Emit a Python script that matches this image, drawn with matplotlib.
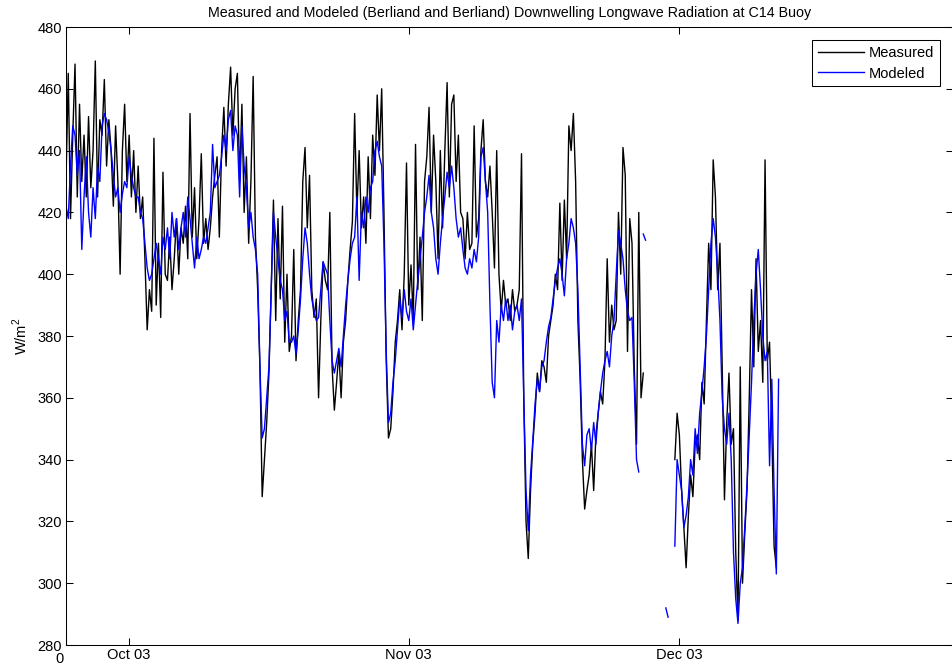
"""
Measured vs modeled downwelling longwave radiation at the C14 buoy.
Values were read off the original figure at 6-hour spacing (4 per day),
starting 24 Sep 2003 (day 0).
"""

import matplotlib
matplotlib.use("Agg")
import matplotlib.pyplot as plt
import matplotlib.transforms as mtransforms
import numpy as np

nan = np.nan

# ---------------------------------------------------------------------------
# Data (W/m^2), one row per day, 4 samples per day
# ---------------------------------------------------------------------------

measured_rows = [
    [430, 465, 418, 445], [468, 425, 455, 430], [445, 425, 451, 428], [440, 469, 425, 450],
    [445, 463, 435, 450], [440, 422, 448, 430], [400, 440, 455, 430], [445, 425, 440, 420],
    [435, 418, 425, 405], [382, 395, 388, 444], [390, 410, 386, 433], [400, 398, 412, 395],
    [405, 418, 400, 415], [410, 422, 405, 452], [412, 428, 405, 418], [439, 410, 418, 408],
    [415, 425, 432, 438], [412, 440, 454, 435], [455, 467, 445, 460], [465, 430, 455, 420],
    [438, 410, 430, 464], [412, 395, 370, 328], [340, 352, 368, 395], [424, 385, 418, 392],
    [422, 378, 400, 375], [380, 408, 372, 385], [395, 430, 441, 415], [432, 395, 386, 392],
    [360, 385, 404, 398], [395, 420, 370, 356], [365, 375, 360, 378], [385, 398, 408, 417],
    [452, 420, 440, 415], [425, 410, 438, 418], [445, 432, 458, 440], [460, 420, 372, 347],
    [350, 362, 378, 385], [395, 382, 400, 436], [390, 403, 385, 442], [395, 412, 385, 430],
    [438, 454, 420, 445], [430, 405, 440, 415], [440, 462, 425, 455], [458, 430, 445, 420],
    [418, 405, 420, 408], [410, 448, 412, 418], [440, 450, 430, 425], [435, 420, 402, 440],
    [400, 388, 398, 390], [392, 385, 395, 388], [390, 395, 439, 360], [320, 308, 330, 345],
    [355, 368, 362, 372], [370, 365, 380, 385], [390, 400, 395, 423], [398, 424, 405, 448],
    [440, 452, 430, 385], [366, 340, 324, 330], [335, 345, 330, 348], [355, 362, 358, 372],
    [405, 378, 390, 382], [385, 420, 400, 441], [432, 375, 418, 410], [370, 345, 420, 360],
    [368, nan, nan, nan], [nan, nan, nan, nan], [nan, nan, nan, nan], [nan, nan, 340, 355],
    [348, 330, 318, 305], [322, 335, 328, 345], [348, 340, 365, 358], [385, 410, 395, 437],
    [425, 395, 410, 370], [327, 352, 368, 345], [350, 310, 288, 370], [300, 316, 330, 360],
    [395, 370, 405, 375], [385, 365, 437, 372], [378, 350, 312, 305], [nan, nan, nan, nan],
]

modeled_rows = [
    [422, 418, 435, 448], [445, 432, 440, 408], [425, 438, 420, 412], [428, 418, 435, 430],
    [448, 452, 450, 446], [440, 432, 425, 428], [420, 426, 430, 428], [438, 432, 428, 425],
    [425, 420, 418, 410], [402, 398, 400, 405], [410, 405, 400, 412], [408, 415, 405, 420],
    [412, 418, 408, 415], [420, 412, 425, 418], [410, 402, 412, 405], [408, 412, 410, 415],
    [420, 442, 428, 430], [432, 438, 445, 440], [450, 453, 440, 448], [445, 425, 448, 435],
    [428, 415, 420, 412], [408, 400, 370, 347], [350, 360, 370, 395], [420, 412, 405, 398],
    [395, 385, 388, 378], [378, 380, 374, 382], [392, 405, 415, 410], [400, 392, 388, 385],
    [386, 395, 404, 402], [400, 385, 372, 368], [372, 376, 370, 380], [390, 398, 405, 410],
    [412, 425, 398, 420], [415, 425, 420, 428], [430, 440, 443, 438], [435, 410, 375, 352],
    [355, 365, 372, 382], [392, 386, 395, 388], [385, 392, 382, 390], [398, 405, 412, 420],
    [425, 432, 420, 415], [405, 400, 410, 418], [425, 433, 428, 435], [428, 418, 412, 415],
    [408, 402, 400, 405], [402, 408, 404, 412], [438, 441, 430, 420], [390, 365, 360, 385],
    [378, 390, 385, 392], [385, 390, 382, 388], [390, 385, 392, 360], [330, 317, 335, 346],
    [358, 366, 362, 370], [372, 378, 383, 386], [392, 398, 402, 405], [400, 393, 405, 410],
    [418, 415, 410, 395], [370, 345, 338, 348], [350, 343, 352, 345], [355, 362, 368, 372],
    [375, 370, 380, 385], [400, 414, 410, 405], [395, 388, 385, 386], [365, 340, 336, nan],
    [413, 411, nan, nan], [nan, nan, nan, nan], [nan, nan, 292, 289], [nan, nan, 312, 340],
    [335, 330, 318, 322], [328, 340, 335, 350], [342, 355, 362, 370], [380, 395, 410, 418],
    [412, 400, 385, 360], [350, 345, 355, 340], [310, 295, 287, 300], [305, 318, 332, 348],
    [365, 385, 400, 408], [395, 380, 372, 375], [338, 366, 330, 303], [366, nan, nan, nan],
]

measured = np.ravel(measured_rows).astype(float)
modeled = np.ravel(modeled_rows).astype(float)
days = np.arange(measured.size) * 0.25  # 6-hourly samples from 24 Sep 2003

tick_days = [0, 7, 38, 68]
tick_labels = ["0", "Oct 03", "Nov 03", "Dec 03"]
y_ticks = np.arange(280, 481, 20)

TITLE = ("Measured and Modeled (Berliand and Berliand) "
         "Downwelling Longwave Radiation at C14 Buoy")

# ---------------------------------------------------------------------------
# Plot
# ---------------------------------------------------------------------------

plt.rcParams["font.family"] = ["Liberation Sans", "DejaVu Sans"]
plt.rcParams["font.size"] = 10.5
plt.rcParams["mathtext.fontset"] = "custom"
plt.rcParams["mathtext.rm"] = "Liberation Sans"

fig = plt.figure(figsize=(9.52, 6.71), dpi=100)
ax = fig.add_axes([66 / 952, 26 / 671, 887 / 952, 618 / 671])

ax.plot(days, measured, color="black", linewidth=1.0, label="Measured")
ax.plot(days, modeled, color="blue", linewidth=1.0, label="Modeled")

ax.set_xlim(0, 887 / 9.02)
ax.set_ylim(280, 480)
ax.set_xticks(tick_days)
ax.set_xticklabels(tick_labels)
ax.set_yticks(y_ticks)
ax.tick_params(direction="in", top=True, right=True, length=5, width=0.75,
               labelsize=10.5)
ax.tick_params(axis="x", pad=2)
ax.tick_params(axis="y", pad=3)
for spine in ax.spines.values():
    spine.set_linewidth(0.75)

# the "0" label sits left of and just below the "280" label in the original
zero_label = ax.get_xticklabels()[0]
offset = mtransforms.ScaledTranslation(-7 / 100, -4 / 100, fig.dpi_scale_trans)
zero_label.set_transform(zero_label.get_transform() + offset)

ax.set_ylabel("W/m$^2$", labelpad=5)
ax.set_title(TITLE, fontsize=10.3, pad=7)

leg = ax.legend(loc="upper right", fancybox=False, framealpha=1,
                edgecolor="black", handlelength=3.2, handletextpad=0.3,
                borderaxespad=0.9, labelspacing=0.45, borderpad=0.4)
leg.get_frame().set_linewidth(0.75)

fig.savefig("out.png", dpi=100)
plt.close(fig)
